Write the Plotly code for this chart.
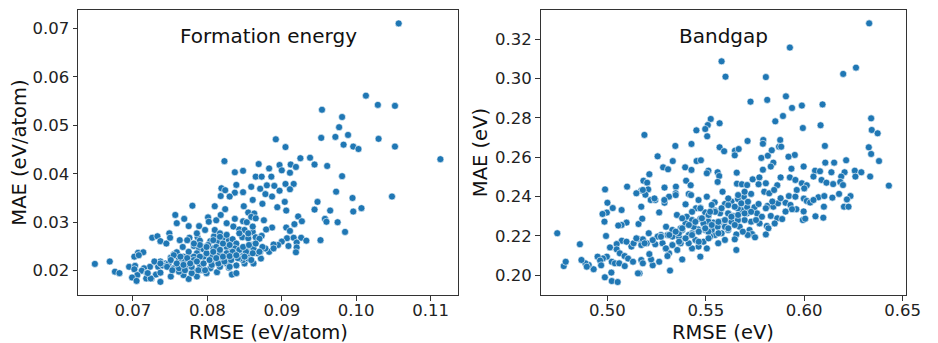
import plotly.graph_objects as go

# ---------------- Formation energy (left) ----------------
fe_rmse = [
0.1057,0.1113,0.1013,0.1029,0.1052,0.0954,0.0981,0.0977,0.0953,0.0972,0.0989,0.1030,0.0983,0.0996,0.1003,0.1052,
0.0892,0.0905,0.0925,0.0938,0.0823,0.0944,0.0961,0.0869,0.0897,0.0912,0.0919,0.0883,0.0900,0.0911,0.0837,0.0848,
0.0981,0.0865,0.0873,0.0886,0.0819,0.0824,0.0839,0.0859,0.0871,0.0880,0.0890,0.0905,0.0916,0.0911,0.0897,0.0837,
0.0848,0.0973,0.0818,0.0830,0.0878,0.0887,0.0861,0.1048,0.0995,0.0948,0.0904,0.0780,0.0810,0.0849,0.0874,0.0894,
0.1007,0.0944,0.0965,0.0996,0.0906,0.0824,0.0855,0.0863,0.0757,0.0769,0.0759,0.0775,0.0789,0.0801,0.0802,0.0812,
0.0818,0.0826,0.0837,0.0848,0.0853,0.0876,0.0887,0.0958,0.0960,0.0975,0.0922,0.0927,0.0917,0.0906,0.0911,0.0985,
0.0835,0.0843,0.0861,0.0865,0.0879,0.0873,0.0907,0.0916,0.0926,0.0933,0.0952,0.0920,0.0920,0.0919,0.0909,0.0900,
0.0895,0.0889,0.0883,0.0872,0.0726,0.0733,0.0737,0.0745,0.0749,0.0750,0.0763,0.0767,0.0776,0.0787,0.0790,0.0782,
0.0789,0.0797,0.0804,0.0809,0.0815,0.0821,0.0829,0.0834,0.0839,0.0847,0.0855,0.0862,0.0870,0.0850,0.0855,0.0755,
0.0759,0.0768,0.0751,0.0744,0.0737,0.0729,0.0723,0.0734,0.0740,0.0707,0.0714,0.0702,0.0708,0.0695,0.0703,0.0702,
0.0715,0.0712,0.0719,0.0706,0.0699,0.0705,0.0718,0.0725,0.0731,0.0737,0.0737,0.0751,0.0649,0.0669,0.0676,0.0682,
0.0775,0.0786,0.0813,0.0833,0.0797,0.0829,0.0839,0.0850,0.0862,0.0867,0.0871,0.0859,0.0848,0.0848,0.0838,0.0830,
0.0837,0.0826,0.0817,0.0812,0.0821,0.0806,0.0806,0.0799,0.0808,0.0801,0.0795,0.0786,0.0790,0.0777,0.0781,0.0771,
0.0764,0.0759,0.0755,0.0768,0.0777,0.0786,0.0793,0.0804,0.0779,0.0768,0.0762,0.0799,0.0817,0.0826,0.0844,0.0855,
0.0857,0.0852,0.0844,0.0832,0.0830,0.0821,0.0812,0.0795,0.0775,0.0782,0.0748,0.0762,0.0889,0.0878,0.0874,0.0862,
0.0810,0.0817,0.0797,0.0786,0.0843,0.0861,0.0859,0.0865,
# dense core
0.0729,0.0737,0.0746,0.0755,0.0764,0.0773,0.0782,0.0790,0.0799,0.0808,0.0817,0.0826,0.0834,0.0843,0.0852,0.0861,
0.0870,0.0753,0.0762,0.0770,0.0779,0.0788,0.0797,0.0806,0.0815,0.0823,0.0832,0.0841,0.0850,0.0859,0.0751,0.0759,
0.0768,0.0777,0.0786,0.0795,0.0803,0.0812,0.0821,0.0830,0.0839,0.0848,0.0856,0.0865,0.0808,0.0817,0.0826,0.0799,
0.0790,0.0782,0.0773,0.0724,0.0720,0.0830,0.0839,
]
fe_mae = [
0.0710,0.0430,0.0561,0.0542,0.0540,0.0532,0.0517,0.0496,0.0474,0.0476,0.0480,0.0472,0.0460,0.0456,0.0451,0.0456,
0.0471,0.0455,0.0432,0.0433,0.0426,0.0419,0.0416,0.0420,0.0418,0.0419,0.0414,0.0411,0.0407,0.0402,0.0403,0.0406,
0.0395,0.0394,0.0394,0.0394,0.0370,0.0366,0.0377,0.0373,0.0369,0.0376,0.0375,0.0379,0.0379,0.0368,0.0365,0.0361,
0.0362,0.0363,0.0354,0.0353,0.0358,0.0353,0.0346,0.0353,0.0350,0.0342,0.0342,0.0334,0.0333,0.0333,0.0338,0.0331,
0.0329,0.0326,0.0324,0.0322,0.0324,0.0327,0.0320,0.0318,0.0315,0.0307,0.0298,0.0292,0.0292,0.0310,0.0301,0.0304,
0.0315,0.0298,0.0307,0.0302,0.0300,0.0304,0.0289,0.0307,0.0301,0.0300,0.0312,0.0302,0.0296,0.0289,0.0282,0.0280,
0.0291,0.0285,0.0280,0.0269,0.0285,0.0272,0.0267,0.0268,0.0268,0.0262,0.0263,0.0258,0.0248,0.0238,0.0251,0.0260,
0.0253,0.0254,0.0239,0.0225,0.0268,0.0271,0.0261,0.0256,0.0277,0.0268,0.0263,0.0249,0.0268,0.0269,0.0262,0.0251,
0.0245,0.0249,0.0261,0.0271,0.0261,0.0267,0.0263,0.0265,0.0256,0.0269,0.0267,0.0254,0.0266,0.0284,0.0277,0.0234,
0.0238,0.0229,0.0227,0.0215,0.0219,0.0218,0.0208,0.0208,0.0211,0.0237,0.0238,0.0229,0.0232,0.0208,0.0210,0.0203,
0.0205,0.0200,0.0195,0.0191,0.0186,0.0179,0.0184,0.0184,0.0192,0.0196,0.0177,0.0188,0.0214,0.0219,0.0198,0.0195,
0.0183,0.0188,0.0197,0.0192,0.0201,0.0206,0.0211,0.0215,0.0215,0.0236,0.0239,0.0241,0.0232,0.0222,0.0236,0.0229,
0.0246,0.0249,0.0236,0.0222,0.0219,0.0215,0.0229,0.0236,0.0246,0.0253,0.0229,0.0222,0.0212,0.0215,0.0201,0.0208,
0.0201,0.0212,0.0205,0.0219,0.0229,0.0236,0.0201,0.0205,0.0195,0.0191,0.0198,0.0195,0.0208,0.0215,0.0225,0.0225,
0.0236,0.0243,0.0243,0.0239,0.0253,0.0256,0.0249,0.0244,0.0239,0.0229,0.0215,0.0225,0.0246,0.0246,0.0249,0.0246,
0.0284,0.0277,0.0284,0.0277,0.0277,0.0291,0.0311,0.0308,
# dense core
0.0219,0.0215,0.0208,0.0232,0.0229,0.0226,0.0222,0.0229,0.0236,0.0239,0.0243,0.0236,0.0239,0.0243,0.0239,0.0236,
0.0239,0.0201,0.0205,0.0201,0.0208,0.0201,0.0201,0.0212,0.0215,0.0219,0.0222,0.0226,0.0229,0.0222,0.0222,0.0215,
0.0212,0.0215,0.0219,0.0215,0.0222,0.0226,0.0229,0.0230,0.0232,0.0249,0.0253,0.0256,0.0263,0.0270,0.0274,0.0249,
0.0253,0.0256,0.0263,0.0184,0.0195,0.0208,0.0195,
]

# ---------------- Bandgap (right) ----------------
bg_rmse = [
0.6330,0.5927,0.5580,0.5600,0.5805,0.6198,0.6263,0.5907,0.5727,0.5812,0.5938,0.5988,0.6093,0.5892,0.5853,0.5525,
0.5510,0.5497,0.5452,0.5570,0.5993,0.6083,0.6340,0.6343,0.6373,0.5188,0.5507,0.5712,0.5792,0.5790,0.5878,0.5345,
0.5427,0.5570,0.5593,0.5648,0.5667,0.5647,0.5872,0.5883,0.6105,0.6328,0.6340,0.5952,0.5920,0.5782,0.5815,0.5835,
0.5255,0.5332,0.5453,0.5475,0.5843,0.6380,0.6213,0.6107,0.6152,0.5283,0.5308,0.5395,0.5427,0.5790,0.5830,0.5935,
0.5997,0.5657,0.5513,0.5505,0.5560,0.5568,0.5213,0.6055,0.6080,0.6138,0.6205,0.6257,0.6290,0.6260,0.6335,0.6047,
0.6188,0.5880,0.5927,0.5955,0.5738,0.5772,0.6088,0.5183,0.5202,0.5400,0.5560,0.5988,0.6113,0.6147,0.6183,0.6197,
0.6430,0.6013,0.5423,0.5348,0.5290,0.5100,0.4988,0.5207,0.5172,0.5658,0.5683,0.5710,0.5768,0.5805,0.5863,0.5585,
0.5962,0.6000,0.5347,0.5413,0.5147,0.5193,0.5505,0.5313,0.6072,0.6102,0.6143,0.6177,0.6235,0.6217,0.5998,0.6013,
0.6030,0.5922,0.5797,0.5822,0.5847,0.5730,0.5693,0.5663,0.5630,0.5597,0.5545,0.5000,0.4997,0.4975,0.5027,0.5072,
0.5172,0.5220,0.5243,0.5263,0.5290,0.5397,0.5450,0.5473,0.5497,0.5530,0.5547,0.5353,0.5403,0.5430,0.5472,0.5513,
0.5617,0.5638,0.5680,0.5710,0.5747,0.5768,0.5813,0.5843,0.5867,0.5905,0.5930,0.5960,0.5938,0.5905,0.5997,0.5993,
0.6005,0.6057,0.6100,0.6097,0.6202,0.6225,0.5830,0.5863,0.5888,0.5850,0.5810,0.5818,0.5773,0.5730,0.5697,0.5672,
0.5722,0.5735,0.5750,0.5713,0.5655,0.5647,0.5655,0.5805,0.5613,0.5580,0.5597,0.5563,0.5547,0.5522,0.5497,0.5538,
0.5580,0.5597,0.5560,0.5460,0.5430,0.5447,0.5488,0.5463,0.5505,0.5430,0.5472,0.5413,0.5372,0.5363,0.5330,0.5305,
0.5272,0.5255,0.5298,0.5372,0.5397,0.5330,0.5355,0.5313,0.5305,0.5380,0.5318,0.5263,0.5230,0.5222,0.5213,0.5243,
0.5210,0.5200,0.5172,0.5155,0.5180,0.5158,0.5177,0.5097,0.5072,0.5055,0.5073,0.5097,0.5122,0.5133,0.5047,0.5013,
0.5047,0.5063,0.5087,0.5105,0.5130,0.5172,0.5180,0.5163,0.5155,0.5022,0.5038,0.5060,0.5088,0.5020,0.5022,0.5052,
0.4987,0.4997,0.4977,0.4950,0.4963,0.4968,0.4930,0.4905,0.4888,0.4868,0.4895,0.4860,0.4993,0.4985,0.4778,0.4788,
0.4745,0.5463,0.5425,0.5530,0.5572,0.5513,0.5488,0.5613,0.5663,0.5710,0.5760,0.5785,0.5755,0.5805,0.5838,0.5880,
0.5955,0.6047,0.5380,0.5363,0.5330,0.5280,0.5297,0.5413,0.5438,0.5530,0.5597,0.5630,0.5688,0.5663,0.5513,
# dense core
0.5147,0.5189,0.5230,0.5272,0.5314,0.5347,0.5380,0.5414,0.5447,0.5480,0.5514,0.5547,0.5580,0.5614,0.5647,0.5680,
0.5714,0.5364,0.5397,0.5430,0.5464,0.5497,0.5530,0.5564,0.5597,0.5630,0.5664,0.5697,0.5730,0.5330,0.5297,0.5464,
0.5514,0.5564,0.5614,0.5647,0.5380,0.5430,0.5472,0.5522,0.5614,0.5664,0.5697,0.5289,0.5239,0.5180,0.5347,
]
bg_mae = [
0.3281,0.3158,0.3088,0.3010,0.3008,0.3024,0.3056,0.2910,0.2883,0.2892,0.2851,0.2863,0.2869,0.2810,0.2783,0.2795,
0.2764,0.2744,0.2737,0.2773,0.2749,0.2763,0.2798,0.2739,0.2722,0.2714,0.2707,0.2683,0.2688,0.2669,0.2688,0.2658,
0.2668,0.2651,0.2631,0.2634,0.2642,0.2610,0.2654,0.2654,0.2658,0.2651,0.2617,0.2612,0.2603,0.2597,0.2608,0.2636,
0.2605,0.2581,0.2581,0.2585,0.2573,0.2581,0.2585,0.2573,0.2573,0.2549,0.2539,0.2549,0.2536,0.2537,0.2553,0.2542,
0.2553,0.2522,0.2532,0.2519,0.2524,0.2505,0.2514,0.2532,0.2529,0.2524,0.2524,0.2532,0.2524,0.2502,0.2502,0.2502,
0.2502,0.2498,0.2498,0.2485,0.2488,0.2498,0.2485,0.2481,0.2471,0.2481,0.2475,0.2468,0.2471,0.2464,0.2475,0.2459,
0.2456,0.2458,0.2458,0.2451,0.2446,0.2451,0.2437,0.2437,0.2431,0.2466,0.2463,0.2459,0.2463,0.2468,0.2458,0.2425,
0.2434,0.2442,0.2417,0.2414,0.2417,0.2410,0.2400,0.2400,0.2397,0.2403,0.2395,0.2414,0.2403,0.2386,0.2390,0.2378,
0.2370,0.2403,0.2425,0.2417,0.2434,0.2414,0.2400,0.2388,0.2375,0.2363,0.2371,0.2369,0.2319,0.2312,0.2342,0.2332,
0.2349,0.2383,0.2383,0.2320,0.2369,0.2361,0.2341,0.2344,0.2320,0.2327,0.2329,0.2307,0.2298,0.2281,0.2288,0.2302,
0.2312,0.2302,0.2332,0.2346,0.2346,0.2363,0.2353,0.2349,0.2366,0.2369,0.2358,0.2336,0.2336,0.2324,0.2325,0.2281,
0.2288,0.2300,0.2349,0.2293,0.2349,0.2349,0.2302,0.2290,0.2286,0.2264,0.2251,0.2239,0.2264,0.2273,0.2281,0.2247,
0.2231,0.2210,0.2193,0.2205,0.2208,0.2183,0.2129,0.2208,0.2231,0.2214,0.2180,0.2163,0.2205,0.2197,0.2231,0.2268,
0.2273,0.2276,0.2247,0.2234,0.2214,0.2180,0.2171,0.2146,0.2137,0.2137,0.2095,0.2163,0.2163,0.2197,0.2197,0.2205,
0.2205,0.2197,0.2247,0.2239,0.2264,0.2154,0.2129,0.2112,0.2098,0.2081,0.2024,0.2069,0.2051,0.2081,0.2108,0.2158,
0.2214,0.2163,0.2154,0.2185,0.2183,0.2261,0.2288,0.2268,0.2256,0.2253,0.2176,0.2171,0.2146,0.2163,0.2159,0.2142,
0.2132,0.2112,0.2098,0.2085,0.2069,0.2078,0.2061,0.2010,0.2010,0.2069,0.2061,0.2061,0.2047,0.2014,0.1971,0.1966,
0.1990,0.2095,0.2086,0.2095,0.2075,0.2051,0.2031,0.2053,0.2061,0.2078,0.2044,0.2158,0.2200,0.2273,0.2047,0.2069,
0.2214,0.2383,0.2408,0.2358,0.2315,0.2273,0.2264,0.2315,0.2341,0.2315,0.2315,0.2298,0.2281,0.2341,0.2375,0.2392,
0.2400,0.2383,0.2231,0.2214,0.2231,0.2163,0.2137,0.2205,0.2247,0.2231,0.2247,0.2273,0.2222,0.2281,0.2222,
# dense core
0.2188,0.2163,0.2179,0.2196,0.2205,0.2222,0.2239,0.2256,0.2272,0.2290,0.2307,0.2323,0.2341,0.2357,0.2349,0.2366,
0.2374,0.2171,0.2188,0.2205,0.2222,0.2239,0.2256,0.2272,0.2281,0.2298,0.2307,0.2315,0.2323,0.2154,0.2137,0.2171,
0.2188,0.2214,0.2239,0.2256,0.2290,0.2323,0.2341,0.2323,0.2391,0.2408,0.2425,0.2383,0.2391,0.2434,0.2408,
]

fe_xticks = [0.07, 0.08, 0.09, 0.10, 0.11]
fe_yticks = [0.02, 0.03, 0.04, 0.05, 0.06, 0.07]
bg_xticks = [0.50, 0.55, 0.60, 0.65]
bg_yticks = [0.20, 0.22, 0.24, 0.26, 0.28, 0.30, 0.32]

W, H = 938, 343
FONT = "DejaVu Sans"
BLUE = "#1f77b4"
TXT = "#111111"

marker = dict(color=BLUE, size=7, line=dict(color="white", width=0.6))

fig = go.Figure()
fig.add_trace(go.Scatter(x=fe_rmse, y=fe_mae, mode="markers", marker=marker,
                         xaxis="x", yaxis="y", showlegend=False))
fig.add_trace(go.Scatter(x=bg_rmse, y=bg_mae, mode="markers", marker=marker,
                         xaxis="x2", yaxis="y2", showlegend=False))

def px2x(p):
    return p / W

def px2y(p):
    return 1 - p / H

ydom = [px2y(295), px2y(10)]
axis_common = dict(showline=True, linecolor="#333333", linewidth=1, mirror=True,
                   ticks="outside", ticklen=4.5, tickwidth=1, tickcolor="#333333",
                   showgrid=False, zeroline=False,
                   tickfont=dict(family=FONT, size=16.5, color="#222222"))

fig.update_layout(
    width=W, height=H, margin=dict(l=0, r=0, t=0, b=0),
    paper_bgcolor="white", plot_bgcolor="white",
    xaxis=dict(domain=[px2x(79.3), px2x(465.7)], range=[0.06264, 0.1137],
               tickvals=fe_xticks, ticktext=[f"{v:.2f}" for v in fe_xticks],
               anchor="y", ticklabelstandoff=-4, **axis_common),
    yaxis=dict(domain=ydom, range=[0.01499, 0.07377],
               tickvals=fe_yticks, ticktext=[f"{v:.2f}" for v in fe_yticks],
               anchor="x", **axis_common),
    xaxis2=dict(domain=[px2x(549.3), px2x(920.7)], range=[0.466, 0.6517],
                tickvals=bg_xticks, ticktext=[f"{v:.2f}" for v in bg_xticks],
                anchor="y2", ticklabelstandoff=-4, **axis_common),
    yaxis2=dict(domain=ydom, range=[0.19, 0.3349],
                tickvals=bg_yticks, ticktext=[f"{v:.2f}" for v in bg_yticks],
                anchor="x2", **axis_common),
)

def ann(text, xp, yp, size, angle=0):
    return dict(text=text, x=px2x(xp), y=px2y(yp), xref="paper", yref="paper",
                showarrow=False, xanchor="center", yanchor="middle", textangle=angle,
                font=dict(family=FONT, size=size, color=TXT))

fig.update_layout(annotations=[
    ann("Formation energy", 272.5, 36, 20),
    ann("Bandgap", 735, 36, 20),
    ann("RMSE (eV/atom)", 272.5, 332, 19.5),
    ann("RMSE (eV)", 735, 332, 19.5),
    ann("MAE (eV/atom)", 20, 153, 19.5, -90),
    ann("MAE (eV)", 489, 153, 19.5, -90),
])

fig.write_html("out.html")
